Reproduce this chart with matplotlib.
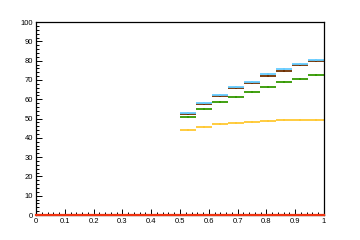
import numpy as np
import matplotlib
matplotlib.use('Agg')
import matplotlib.pyplot as plt
from matplotlib.ticker import MultipleLocator

# bin edges of the filled part (9 bins between 0.5 and 1)
bin_edges = np.linspace(0.5, 1.0, 10)

# values per bin
green = [50.9, 55.0, 58.7, 61.3, 63.9, 66.5, 69.1, 70.7, 72.6]
yellow = [44.1, 45.7, 47.4, 47.8, 48.3, 48.8, 49.3, 49.4, 49.5]
brown = [52.3, 57.5, 61.8, 65.8, 68.6, 71.9, 74.8, 77.6, 79.7]
blue = [53.0, 58.0, 62.3, 66.3, 69.1, 73.3, 75.9, 78.5, 80.6]

series = [
    (green, '#339900'),
    (yellow, '#ffc832'),
    (brown, '#6e2f00'),
    (blue, '#66ccff'),
]

centers = 0.5 * (bin_edges[:-1] + bin_edges[1:])
halfw = 0.5 * np.diff(bin_edges)

plt.rcParams['font.family'] = ['Liberation Sans', 'DejaVu Sans']

fig = plt.figure(figsize=(3.6, 2.4), dpi=100)
ax = fig.add_axes([0.1, 0.104, 0.8, 0.804])

for vals, col in series:
    ax.errorbar(centers, vals, xerr=halfw, fmt='s', color=col, ms=2.0,
                elinewidth=1.3, capsize=2.5, capthick=1.1, mew=0)

# empty histogram line along zero
ax.plot([0, 1], [0, 0], color='#ee3311', lw=1.6, clip_on=False, zorder=5)

ax.set_xlim(0, 1)
ax.set_ylim(0, 100)
ax.xaxis.set_major_locator(MultipleLocator(0.1))
ax.xaxis.set_minor_locator(MultipleLocator(0.02))
ax.yaxis.set_major_locator(MultipleLocator(10))
ax.yaxis.set_minor_locator(MultipleLocator(2))
ax.xaxis.set_major_formatter(plt.FuncFormatter(lambda v, p: '%g' % round(v, 2)))
ax.tick_params(which='both', direction='in', top=False, right=False,
               labelsize=5.5, width=0.7, pad=2)
ax.tick_params(which='major', length=4)
ax.tick_params(which='minor', length=2.2)
for s in ax.spines.values():
    s.set_linewidth(0.9)

fig.savefig('out.png', dpi=100)
